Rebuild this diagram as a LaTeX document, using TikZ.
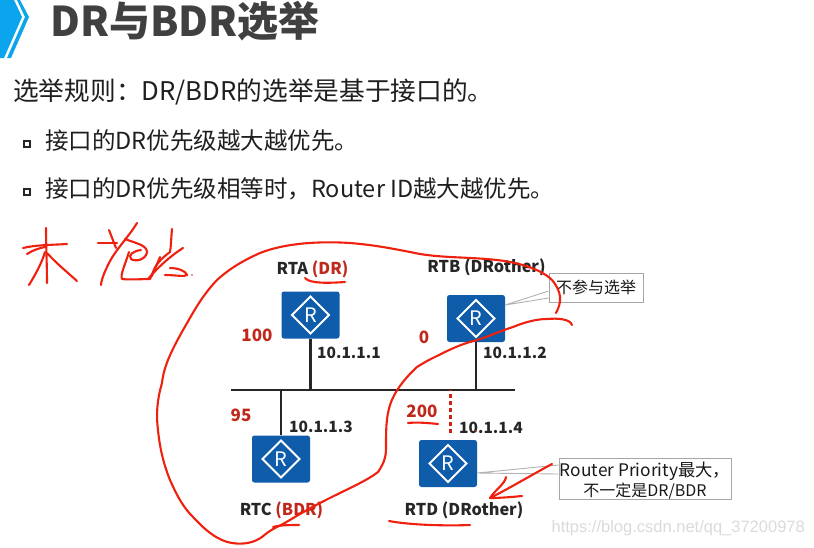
\documentclass[tikz,border=0pt]{standalone}
\usepackage{fontspec}
\setmainfont{Noto Sans CJK SC}
\newfontfamily\wmfont{Liberation Sans}
\definecolor{routerblue}{HTML}{0F5CAB}
\definecolor{labred}{HTML}{C0281C}
\definecolor{dotred}{HTML}{D0201A}
\definecolor{inkred}{HTML}{F0200F}
\definecolor{skyblue}{HTML}{0AA5EC}
\definecolor{titlegray}{HTML}{404040}
\tikzset{
  x=1pt,y=-1pt,
  router/.style={fill=routerblue,rounded corners=2.5pt,minimum width=58pt,minimum height=47pt,inner sep=0pt,text=white,
    font=\fontsize{20}{20}\selectfont,
    path picture={\draw[white,line width=2pt,sharp corners] ([xshift=-18.5pt]path picture bounding box.center)--([yshift=18.5pt]path picture bounding box.center)--([xshift=18.5pt]path picture bounding box.center)--([yshift=-18.5pt]path picture bounding box.center)--cycle;}},
  rname/.style={font=\bfseries\fontsize{16.3}{16.3}\selectfont,inner sep=0pt,text=black!85},
  addr/.style={font=\bfseries\fontsize{15.5}{15.5}\selectfont,inner sep=0pt,anchor=west,text=black!85},
  prio/.style={font=\bfseries\fontsize{17}{17}\selectfont,inner sep=0pt,text=labred},
  link/.style={line width=2.6pt,black!85},
  note/.style={draw=black!35,fill=white,line width=0.9pt,inner sep=0pt,align=center,text=black!90},
  ink/.style={inkred,line width=2.1pt,line cap=round,line join=round},
  bodyt/.style={inner sep=0pt,anchor=west,text=black!88}
}
\begin{document}
\begin{tikzpicture}
\useasboundingbox (0,0) rectangle (814,547);
\fill[white] (0,0) rectangle (814,547);
% logo
\fill[skyblue] (0,0)--(14,0)--(22,17)--(4,58)--(0,58)--cycle;
\fill[skyblue] (17,0)--(20,0)--(29,17)--(11,58)--(7,58)--(25,17)--cycle;
% heading
\node[inner sep=0pt,anchor=west,font=\bfseries\fontsize{41}{41}\selectfont,text=titlegray] (title) at (50,21) {DR与BDR选举};
\node[bodyt,font=\fontsize{25.7}{25.7}\selectfont] (rule) at (13,92) {选举规则：DR/BDR的选举是基于接口的。};
\node[bodyt,font=\fontsize{23.5}{23.5}\selectfont] (r1) at (45,141) {接口的DR优先级越大越优先。};
\node[bodyt,font=\fontsize{23.5}{23.5}\selectfont] (r2) at (45,189) {接口的DR优先级相等时，Router ID越大越优先。};
\node[draw=black!85,line width=1.2pt,minimum size=6pt,inner sep=0pt] (b1) at (27,144) {};
\node[draw=black!85,line width=1.2pt,minimum size=6pt,inner sep=0pt] (b2) at (27,192) {};
% network
\coordinate (busL) at (231,390);
\coordinate (busR) at (515,390);
\node[router] (rta) at (310.5,315) {R};
\node[router] (rtb) at (476,318.5) {R};
\node[router] (rtc) at (281,459) {R};
\node[router] (rtd) at (448,463.5) {R};
\draw[link] (busL)--(busR);
\draw[link] (rta.south)--(rta.south|-busL);
\draw[link] (rtb.south)--(rtb.south|-busL);
\draw[link] (rtc.north)--(rtc.north|-busL);
\draw[dotred,line width=3pt,dash pattern=on 3.5pt off 3.5pt] (rtd.north)++(2,-7)--(450,390);
% names
\node[rname] (na) at (312.5,269) {RTA \textcolor{labred}{(DR)}};
\node[rname] (nb) at (486.5,267) {RTB (DRother)};
\node[rname] (nc) at (281.5,510) {RTC \textcolor{labred}{(BDR)}};
\node[rname] (nd) at (464,510) {RTD (DRother)};
\node[addr] (a1) at (317,353) {10.1.1.1};
\node[addr] (a2) at (483,353) {10.1.1.2};
\node[addr] (a3) at (289,427) {10.1.1.3};
\node[addr] (a4) at (459,428) {10.1.1.4};
\node[prio] (p1) at (257,335) {100};
\node[prio] (p2) at (424,337) {0};
\node[prio] (p3) at (241,415) {95};
\node[prio] (p4) at (422,411) {200};
% callouts
\node[note,minimum width=94pt,minimum height=29pt,font=\fontsize{16}{18}\selectfont] (n1) at (596,287.5) {不参与选举};
\draw[black!30,line width=0.9pt] (n1.west|-0,291)--(rtb.east|-0,305)--(n1.west|-0,298);
\node[note,minimum width=172pt,minimum height=40pt,font=\fontsize{17.3}{20}\selectfont] (n2) at (645,479) {\rule{0pt}{18pt}Router Priority最大，\\{\fontsize{16}{20}\selectfont 不一定是DR/BDR}};
\draw[black!30,line width=0.9pt] (n2.west|-0,465)--(rtd.east|-0,473)--(n2.west|-0,474);
\node[inner sep=0pt,anchor=east,font=\wmfont\fontsize{16.5}{16.5}\selectfont,text=black!14] (wm) at (805,528) {https://blog.csdn.net/qq\_37200978};
% handwriting
\draw[ink] (556,313) .. controls (562,302) and (562,292) .. (552,280) .. controls (540,268) and (515,262) .. (497,260) .. controls (470,257) and (445,258) .. (420,254) .. controls (395,249) and (375,245) .. (350,243) .. controls (320,241) and (285,243) .. (260,253) .. controls (240,262) and (228,270) .. (217,280) .. controls (200,298) and (192,315) .. (183,330) .. controls (172,350) and (164,365) .. (162,383) .. controls (157,400) and (156,415) .. (158,430) .. controls (160,450) and (164,465) .. (170,480) .. controls (178,498) and (184,508) .. (193,517) .. controls (205,530) and (218,541) .. (232,543) .. controls (245,545) and (255,542) .. (262,537) .. controls (270,530) and (275,528) .. (283,524) .. controls (300,514) and (310,508) .. (322,502) .. controls (345,490) and (365,482) .. (378,472) .. controls (385,462) and (386,455) .. (386,448) .. controls (386,430) and (386,418) .. (390,405) .. controls (394,392) and (405,378) .. (417,367) .. controls (428,360) and (435,357) .. (443,353) .. controls (455,347) and (465,343) .. (477,340) .. controls (490,336) and (503,330) .. (513,327) .. controls (525,322) and (537,319) .. (547,319) .. controls (558,318) and (570,319) .. (572,325);
\draw[ink] (305,278) .. controls (310,284) and (330,283) .. (345,282);
\draw[ink] (408,423) .. controls (418,422) and (428,423) .. (438,424);
\draw[ink] (389,521) .. controls (410,525) and (445,526) .. (470,525);
\draw[ink] (273,527) .. controls (280,525) and (290,525) .. (299,525);
\draw[ink] (552,464) .. controls (535,473) and (510,488) .. (490,498);
\draw[ink] (506,477) .. controls (505,484) and (495,490) .. (490,498) .. controls (500,498) and (512,497) .. (522,496);
\fill[inkred] (476,431) circle (0.9);
% 木
\draw[ink] (23,248) .. controls (35,245) and (50,245) .. (67,244);
\draw[ink] (27,254) .. controls (33,250) and (40,248) .. (45,247);
\draw[ink] (46,228) .. controls (46,245) and (47,265) .. (47,283);
\draw[ink] (45,252) .. controls (41,265) and (35,275) .. (29,285);
\draw[ink] (47,253) .. controls (55,262) and (67,272) .. (77,281);
% 抢
\draw[ink] (98,243) -- (117,243);
\draw[ink] (109,230) -- (116,248);
\draw[ink] (137,223) .. controls (128,238) and (115,250) .. (108,265) .. controls (103,275) and (101,282) .. (101,285);
\draw[ink] (125,239) .. controls (135,243) and (147,245) .. (147,252) .. controls (146,260) and (135,262) .. (131,259) .. controls (128,255) and (133,251) .. (141,250);
\draw[ink] (129,252) .. controls (125,265) and (120,275) .. (122,279) .. controls (130,280) and (142,279) .. (150,279) .. controls (153,272) and (157,265) .. (160,257);
% 选
\draw[ink] (172,229) .. controls (171,240) and (171,247) .. (170,252) .. controls (162,258) and (154,265) .. (152,276);
\draw[ink] (183,248) .. controls (172,255) and (160,265) .. (148,279);
\draw[ink] (165,275) .. controls (175,275) and (185,277) .. (187,275) .. controls (186,271) and (178,268) .. (170,268);
\fill[inkred] (192,275) circle (0.8);
\end{tikzpicture}
\end{document}
